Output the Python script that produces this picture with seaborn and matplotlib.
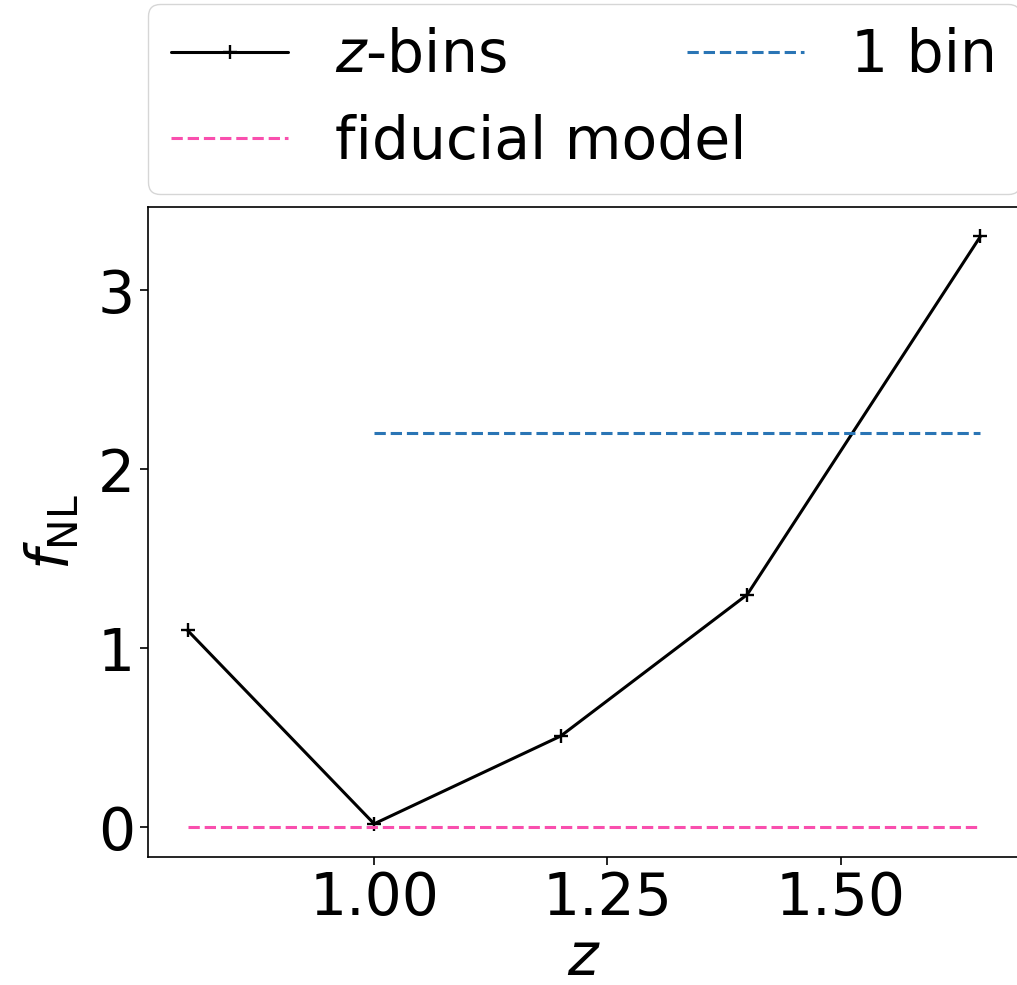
import matplotlib
matplotlib.use("Agg")
import matplotlib.pyplot as plt
import seaborn as sns
import pandas as pd

# Redshift bins and the measured f_NL in each bin
z_bins = [0.80, 1.00, 1.20, 1.40, 1.65]
fnl_bins = [1.10, 0.02, 0.51, 1.30, 3.30]

# Single-bin estimate, shown over the range it covers
z_one_bin = [1.00, 1.65]
fnl_one_bin = [2.20, 2.20]

# Fiducial model value
z_fiducial = [0.80, 1.65]
fnl_fiducial = [0.0, 0.0]

labels = ["$z$-bins", "fiducial model", "1 bin"]

sns.set_style("ticks", {"axes.edgecolor": "black", "text.color": "black",
                        "axes.labelcolor": "black", "xtick.color": "black",
                        "ytick.color": "black"})
plt.rcParams["font.family"] = ["DejaVu Sans"]
plt.rcParams["mathtext.fontset"] = "dejavusans"

FS = 42
fig = plt.figure(figsize=(10.17, 9.85), dpi=100)
ax = fig.add_axes([0.1455, 0.130, 0.8575, 0.660])

df_bins = pd.DataFrame({"z": z_bins, "fnl": fnl_bins})
df_one = pd.DataFrame({"z": z_one_bin, "fnl": fnl_one_bin})
df_fid = pd.DataFrame({"z": z_fiducial, "fnl": fnl_fiducial})

sns.lineplot(data=df_bins, x="z", y="fnl", ax=ax, color="black", lw=2.2,
             marker="+", markersize=10, markeredgewidth=1.7,
             markeredgecolor="black", label=labels[0])
sns.lineplot(data=df_fid, x="z", y="fnl", ax=ax, color="#f94fae", lw=2.2,
             linestyle="--", label=labels[1])
sns.lineplot(data=df_one, x="z", y="fnl", ax=ax, color="#2a75b5", lw=2.2,
             linestyle="--", label=labels[2])

ax.set_xlabel("$z$", fontsize=FS, labelpad=2)
ax.set_ylabel(r"$f_{\rm NL}$", fontsize=FS, labelpad=12)
ax.set_xticks([1.00, 1.25, 1.50])
ax.set_xticklabels(["1.00", "1.25", "1.50"])
ax.set_yticks([0, 1, 2, 3])
ax.tick_params(labelsize=FS, length=6, width=1.2, colors="black")
for sp in ax.spines.values():
    sp.set_linewidth(1.2)
    sp.set_color("black")

leg = ax.legend(fontsize=FS, ncol=2, loc="lower left",
                bbox_to_anchor=(0, 1.02, 1, 0.2), mode="expand",
                borderaxespad=0, frameon=True)
for t in leg.get_texts():
    t.set_color("black")

fig.savefig("out.png", dpi=100)
